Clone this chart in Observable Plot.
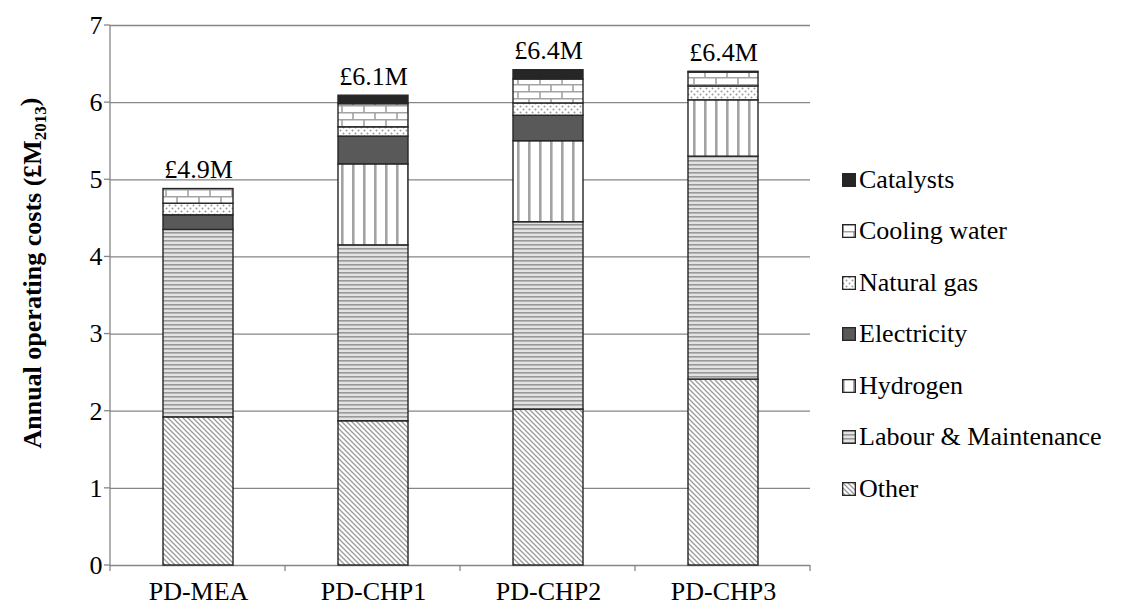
<!DOCTYPE html>
<html><head><meta charset="utf-8">
<script src="https://cdn.jsdelivr.net/npm/d3@7"></script>
<script src="https://cdn.jsdelivr.net/npm/@observablehq/plot@0.6"></script>
<style>
body{margin:0;background:#fff;}
#wrap{position:relative;width:1125px;height:606px;font-family:"Liberation Serif","Times New Roman",serif;}
#legend{position:absolute;left:842px;top:154px;}
.row{display:flex;align-items:center;height:51.5px;font-size:26px;color:#000;white-space:nowrap;}
.row svg{margin-right:3px;flex:none}
</style></head><body><div id="wrap"></div>
<script>
// ---- data ----
const scenarios = ["PD-MEA", "PD-CHP1", "PD-CHP2", "PD-CHP3"];
const components = ["Other", "Labour & Maintenance", "Hydrogen", "Electricity", "Natural gas", "Cooling water", "Catalysts"];
const other        = [1.92, 1.87, 2.02, 2.41];
const labour       = [2.43, 2.28, 2.43, 2.89];
const hydrogen     = [0.00, 1.05, 1.05, 0.73];
const electricity  = [0.19, 0.36, 0.33, 0.00];
const naturalGas   = [0.15, 0.12, 0.16, 0.18];
const coolingWater = [0.19, 0.30, 0.31, 0.18];
const catalysts    = [0.00, 0.11, 0.12, 0.01];
const totalLabels  = ["£4.9M", "£6.1M", "£6.4M", "£6.4M"];
const yTicks = [0, 1, 2, 3, 4, 5, 6, 7];
const legendOrder = ["Catalysts", "Cooling water", "Natural gas", "Electricity", "Hydrogen", "Labour & Maintenance", "Other"];

const seriesValues = [other, labour, hydrogen, electricity, naturalGas, coolingWater, catalysts];
const patternIds = ["pOther", "pLabour", "pHydrogen", "pElec", "pGas", "pCool", "pCat"];
const patternUrl = patternIds.map(id => `url(#${id})`);

const rows = [];
components.forEach((c, ci) => scenarios.forEach((s, si) => {
  if (seriesValues[ci][si] > 0) rows.push({scenario: s, component: c, value: seriesValues[ci][si]});
}));
const totals = scenarios.map((s, si) => ({scenario: s, total: d3.sum(seriesValues, v => v[si]), label: totalLabels[si]}));

const GRID = "#868686";
const FONT = "'Liberation Serif', 'Times New Roman', serif";

// axis decorations drawn from the scales
function axisDecor(index, scales, values, dim) {
  const g = d3.create("svg:g").attr("stroke", GRID).attr("stroke-width", 1.3);
  const left = dim.marginLeft, right = dim.width - dim.marginRight, bottom = dim.height - dim.marginBottom;
  g.append("line").attr("x1", left).attr("x2", left).attr("y1", scales.y(yTicks[yTicks.length-1])).attr("y2", bottom);
  for (const t of yTicks) g.append("line").attr("x1", left - 6).attr("x2", left).attr("y1", scales.y(t)).attr("y2", scales.y(t));
  const step = (right - left) / scenarios.length;
  for (let i = 0; i <= scenarios.length; i++) {
    const x = left + i * step;
    g.append("line").attr("x1", x).attr("x2", x).attr("y1", bottom).attr("y2", bottom + 6);
  }
  return g.node();
}

const chart = Plot.plot({
  width: 1125, height: 606,
  marginLeft: 110, marginRight: 315, marginTop: 25, marginBottom: 41,
  style: {fontFamily: FONT, fontSize: "26px", color: "#000", background: "transparent"},
  x: {domain: scenarios, paddingInner: 0.6, paddingOuter: 0.3, axis: null},
  y: {domain: [0, 7], axis: null},
  color: {domain: components, range: patternUrl},
  marks: [
    Plot.ruleY(yTicks, {stroke: GRID, strokeWidth: 1.3}),
    axisDecor,
    Plot.barY(rows, {x: "scenario", y: "value", fill: "component", z: "component", order: components, stroke: "#262626", strokeWidth: 1.4}),
    Plot.text(yTicks, {y: d => d, text: d => String(d), frameAnchor: "left", dx: -8, textAnchor: "end", fontSize: 26}),
    Plot.text(scenarios, {x: d => d, text: d => d, frameAnchor: "bottom", dy: 34, lineAnchor: "bottom", fontSize: 26}),
    Plot.text(totals, {x: "scenario", y: "total", text: "label", dy: -11, lineAnchor: "bottom", fontSize: 26})
  ]
});

// pattern definitions
const svg = d3.select(chart);
const defs = svg.insert("defs", ":first-child");
function pat(id, w, h) {
  return defs.append("pattern").attr("id", id).attr("patternUnits", "userSpaceOnUse").attr("width", w).attr("height", h);
}
let p;
p = pat("pOther", 5, 5);
p.append("rect").attr("width", 5).attr("height", 5).attr("fill", "#fff");
p.append("path").attr("d", "M0,0L5,5M-1,4L1,6M4,-1L6,1").attr("stroke", "#9a9a9a").attr("stroke-width", 1.3);
p = pat("pLabour", 4, 4);
p.append("rect").attr("width", 4).attr("height", 4).attr("fill", "#e3e3e3");
p.append("rect").attr("width", 4).attr("height", 1.6).attr("fill", "#999");
p = pat("pHydrogen", 11, 10);
p.append("rect").attr("width", 11).attr("height", 10).attr("fill", "#fff");
p.append("rect").attr("x", 0).attr("width", 2.6).attr("height", 10).attr("fill", "#a3a3a3");
p = pat("pElec", 4, 4);
p.append("rect").attr("width", 4).attr("height", 4).attr("fill", "#595959");
p = pat("pGas", 6, 6);
p.append("rect").attr("width", 6).attr("height", 6).attr("fill", "#fff");
p.append("circle").attr("cx", 1.5).attr("cy", 1.5).attr("r", 1).attr("fill", "#9a9a9a");
p.append("circle").attr("cx", 4.5).attr("cy", 4.5).attr("r", 1).attr("fill", "#9a9a9a");
p = pat("pCool", 22, 14);
p.append("rect").attr("width", 22).attr("height", 14).attr("fill", "#fff");
p.append("path").attr("d", "M0,0.75H22M0,7.75H22M1,0V7M12,7V14").attr("stroke", "#a3a3a3").attr("stroke-width", 1.6);
p = pat("pCat", 4, 4);
p.append("rect").attr("width", 4).attr("height", 4).attr("fill", "#262626");

// y-axis title with subscript
const yl = svg.append("text")
  .attr("transform", "translate(41,273) rotate(-90)")
  .attr("text-anchor", "middle")
  .attr("font-weight", "bold").attr("font-size", 26).attr("font-family", FONT).attr("fill", "#000");
yl.append("tspan").text("Annual operating costs (£M");
yl.append("tspan").attr("font-size", 17).attr("dy", "0.3em").text("2013");
yl.append("tspan").attr("dy", "-0.3em").text(")");

const wrap = document.getElementById("wrap");
wrap.appendChild(chart);

// legend
const legend = d3.select(wrap).append("div").attr("id", "legend");
for (const c of legendOrder) {
  const r = legend.append("div").attr("class", "row");
  const s = r.append("svg").attr("width", 14).attr("height", 14);
  s.append("rect").attr("x", 0.65).attr("y", 0.65).attr("width", 12.7).attr("height", 12.7)
    .attr("fill", patternUrl[components.indexOf(c)]).attr("stroke", "#262626").attr("stroke-width", 1.3);
  r.append("span").text(c);
}
</script></body></html>
